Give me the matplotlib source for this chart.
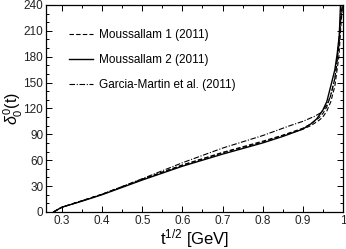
import numpy as np
import matplotlib
matplotlib.use("Agg")
import matplotlib.pyplot as plt
from matplotlib.ticker import MultipleLocator, FuncFormatter

plt.rcParams["font.family"] = ["Liberation Sans", "DejaVu Sans"]
plt.rcParams["mathtext.fontset"] = "custom"
plt.rcParams["mathtext.rm"] = "Liberation Sans"
plt.rcParams["mathtext.it"] = "Liberation Sans:italic"

# ── Data ──────────────────────────────────────────────────────────────────────
x_m2 = [0.279, 0.29, 0.30, 0.35, 0.40, 0.45, 0.50, 0.55, 0.60, 0.65, 0.70,
        0.75, 0.80, 0.85, 0.90, 0.92, 0.935, 0.95, 0.96, 0.972, 0.98, 0.986,
        0.991, 0.994]
y_m2 = [0, 3, 5.5, 12.5, 20, 28.5, 37, 45, 53, 60, 67, 73.5, 80, 87.5, 96,
        102, 108, 118, 128, 150, 165, 184, 205, 240]

x_m1a = [0.279, 0.30, 0.40, 0.50, 0.60, 0.70, 0.80, 0.85, 0.90, 0.92, 0.94,
         0.95, 0.96, 0.97, 0.98, 0.99, 0.995, 0.999]
y_m1a = [0, 5.5, 20.5, 38, 54.5, 69, 82, 89, 97, 102, 109, 114, 122, 136,
         155, 192, 225, 240]
x_m1b = [0.279, 0.30, 0.40, 0.50, 0.60, 0.70, 0.80, 0.85, 0.90, 0.92, 0.94,
         0.95, 0.96, 0.97, 0.98, 0.99, 0.995, 0.999]
y_m1b = [0, 5.5, 20.5, 37.5, 54, 68.5, 81, 88.5, 96, 100, 106, 110, 117, 128,
         146, 180, 215, 240]

x_gm = [0.279, 0.30, 0.40, 0.50, 0.60, 0.70, 0.80, 0.868, 0.90, 0.93, 0.945,
        0.96, 0.97, 0.98, 0.985, 0.99, 0.995, 0.999]
y_gm = [0, 5.5, 20.5, 38.5, 57, 74, 88.5, 100, 105, 111, 115, 124, 135, 155,
        172, 198, 228, 240]

# ── Figure ────────────────────────────────────────────────────────────────────
fig = plt.figure(figsize=(3.46, 2.49), dpi=100)
ax = fig.add_axes([0.133, 0.149, 0.858, 0.831])

ax.plot(x_m1a, y_m1a, color="black", lw=0.8, ls=(0, (4, 2)),
        label="Moussallam 1 (2011)")
ax.plot(x_m1b, y_m1b, color="black", lw=0.8, ls=(0, (4, 2)))
ax.plot(x_m2, y_m2, color="black", lw=1.0, label="Moussallam 2 (2011)")
ax.plot(x_gm, y_gm, color="black", lw=0.8, ls=(0, (5, 1.5, 1, 1.5)),
        label="Garcia-Martin et al. (2011)")

ax.set_xlim(0.26, 1.0)
ax.set_ylim(0, 240)
ax.xaxis.set_major_locator(MultipleLocator(0.1))
ax.xaxis.set_minor_locator(MultipleLocator(0.05))
ax.yaxis.set_major_locator(MultipleLocator(30))
ax.yaxis.set_minor_locator(MultipleLocator(10))
ax.xaxis.set_major_formatter(FuncFormatter(lambda v, p: f"{v:g}"))
ax.tick_params(which="both", direction="in", top=True, right=True,
               labelsize=8.5, width=0.7, pad=2, labelcolor="#222222")
ax.tick_params(which="major", length=4)
ax.tick_params(which="minor", length=2)
for s in ax.spines.values():
    s.set_linewidth(0.9)

ax.set_xlabel("t$^{1/2}$ [GeV]", fontsize=12, labelpad=0)
ax.set_ylabel(r"$\delta_0^0$(t)", fontsize=11.5)
ax.yaxis.set_label_coords(-0.072, 0.5)

ax.legend(loc="upper left", frameon=False, fontsize=8.5, handlelength=2.1,
          handletextpad=0.5, labelspacing=1.1,
          bbox_to_anchor=(0.06, 0.905), borderaxespad=0)

plt.savefig("out.png", dpi=100)
plt.close()
